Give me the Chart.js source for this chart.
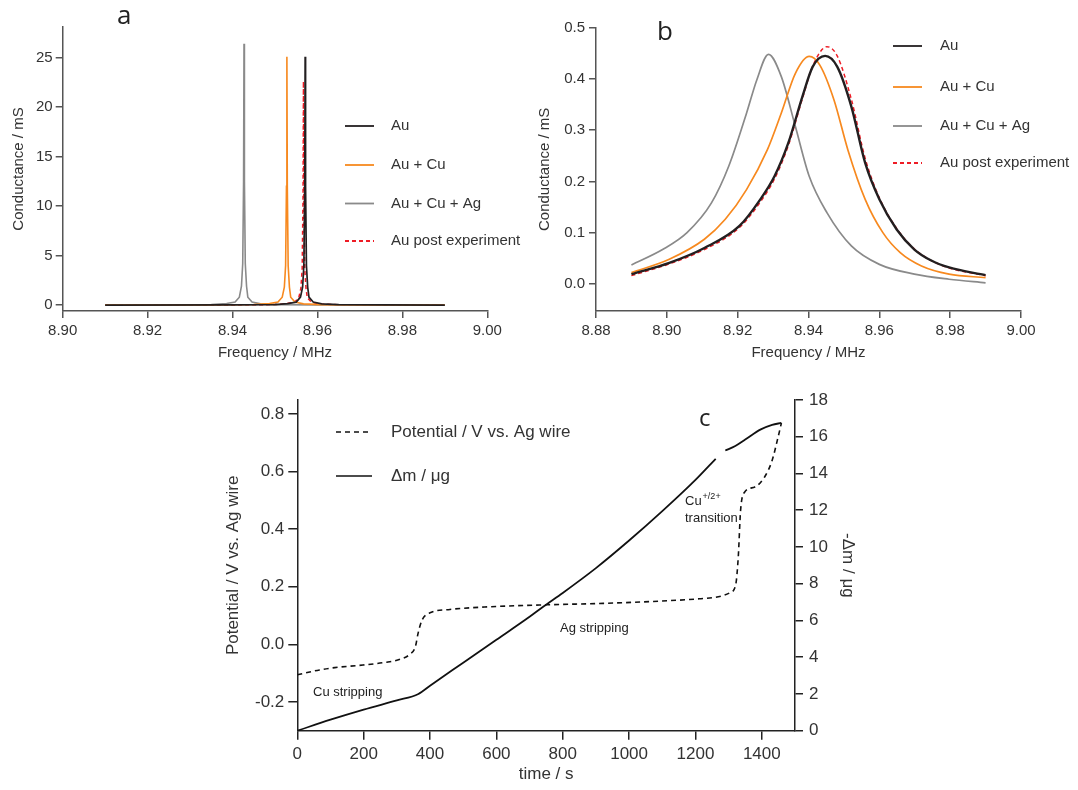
<!DOCTYPE html>
<html>
<head>
<meta charset="utf-8">
<script src="https://cdn.jsdelivr.net/npm/chart.js@4.4.1/dist/chart.umd.min.js"></script>
<style>
  body { margin: 0; width: 1078px; height: 790px; background: #fff; position: relative; overflow: hidden; }
  canvas { position: absolute; }
</style>
</head>
<body>
<canvas id="chart_a" width="540" height="370" style="left:0px;top:0px"></canvas>
<canvas id="chart_b" width="548" height="370" style="left:530px;top:0px"></canvas>
<canvas id="chart_c" width="640" height="410" style="left:220px;top:380px"></canvas>
<script>
// ---- panel a : narrow resonances ----
const a_au_freq = [8.910, 8.940, 8.950, 8.953, 8.955, 8.956, 8.9565, 8.9568, 8.9570, 8.9571, 8.9572, 8.9574, 8.9577, 8.958, 8.959, 8.961, 8.965, 8.975, 8.990];
const a_au_g    = [0, 0.01, 0.05, 0.15, 0.3, 0.8, 1.8, 4.0, 12, 25.1, 12, 4.0, 1.8, 0.8, 0.3, 0.12, 0.04, 0.01, 0];
const a_cu_freq = [8.910, 8.935, 8.945, 8.9487, 8.9507, 8.9517, 8.9522, 8.9525, 8.9527, 8.9528, 8.9529, 8.9531, 8.9534, 8.9537, 8.9547, 8.9567, 8.9607, 8.970, 8.990];
const a_cu_g    = [0, 0.01, 0.05, 0.15, 0.3, 0.8, 1.8, 4.0, 12, 25.1, 12, 4.0, 1.8, 0.8, 0.3, 0.12, 0.04, 0.01, 0];
const a_ag_freq = [8.910, 8.925, 8.935, 8.9386, 8.9406, 8.9416, 8.9421, 8.9424, 8.9426, 8.9427, 8.9428, 8.9430, 8.9433, 8.9436, 8.9446, 8.9466, 8.9506, 8.960, 8.990];
const a_ag_g    = [0, 0.01, 0.05, 0.15, 0.3, 0.8, 1.9, 4.2, 12.5, 26.4, 12.5, 4.2, 1.9, 0.8, 0.3, 0.12, 0.04, 0.01, 0];
const a_post_freq = [8.910, 8.940, 8.950, 8.9526, 8.9546, 8.9556, 8.9561, 8.9564, 8.9566, 8.9567, 8.9568, 8.9570, 8.9573, 8.9576, 8.9586, 8.9606, 8.9646, 8.975, 8.990];
const a_post_g    = [0, 0.01, 0.05, 0.14, 0.28, 0.75, 1.7, 3.7, 11, 22.6, 11, 3.7, 1.7, 0.75, 0.28, 0.11, 0.04, 0.01, 0];

// ---- panel b : broad resonances ----
const b_au_freq = [8.890, 8.9007, 8.9106, 8.9205, 8.9264, 8.9304, 8.9343, 8.9383, 8.9412, 8.9447, 8.9481, 8.9521, 8.9560, 8.9600, 8.9649, 8.9699, 8.9748, 8.9797, 8.990];
const b_au_g    = [0.019, 0.041, 0.070, 0.113, 0.165, 0.210, 0.275, 0.366, 0.424, 0.445, 0.424, 0.346, 0.236, 0.165, 0.106, 0.067, 0.045, 0.032, 0.017];
const b_cu_freq = [8.890, 8.9007, 8.9106, 8.9165, 8.9225, 8.9284, 8.9323, 8.9363, 8.9402, 8.9432, 8.9472, 8.9511, 8.9560, 8.9610, 8.9659, 8.9719, 8.9797, 8.990];
const b_cu_g    = [0.022, 0.048, 0.087, 0.126, 0.184, 0.262, 0.333, 0.411, 0.444, 0.427, 0.359, 0.262, 0.165, 0.100, 0.061, 0.035, 0.019, 0.012];
const b_ag_freq = [8.890, 8.8988, 8.9057, 8.9126, 8.9175, 8.9225, 8.9254, 8.9287, 8.9323, 8.9363, 8.9402, 8.9452, 8.9521, 8.9600, 8.9699, 8.9797, 8.990];
const b_ag_g    = [0.037, 0.067, 0.100, 0.158, 0.230, 0.333, 0.398, 0.448, 0.405, 0.307, 0.210, 0.139, 0.074, 0.038, 0.019, 0.009, 0.002];
const b_post_freq = [8.890, 8.9007, 8.9106, 8.9205, 8.9264, 8.9304, 8.9343, 8.9383, 8.9412, 8.9452, 8.9481, 8.9521, 8.9560, 8.9600, 8.9649, 8.9699, 8.9748, 8.9797, 8.990];
const b_post_g    = [0.016, 0.039, 0.067, 0.110, 0.160, 0.205, 0.270, 0.362, 0.425, 0.463, 0.445, 0.360, 0.245, 0.168, 0.108, 0.068, 0.045, 0.031, 0.016];

// ---- panel c : stripping experiment ----
const c_pot_time  = [0, 67, 113, 198, 264, 310, 339, 356, 364, 376, 402, 460, 576, 749, 922, 1096, 1212, 1269, 1304, 1321, 1329, 1336, 1348, 1379, 1408, 1431, 1449, 1459];
const c_potential = [-0.106, -0.089, -0.081, -0.072, -0.063, -0.052, -0.035, -0.008, 0.038, 0.084, 0.110, 0.121, 0.130, 0.137, 0.142, 0.150, 0.158, 0.165, 0.179, 0.205, 0.303, 0.465, 0.528, 0.546, 0.580, 0.638, 0.719, 0.768];
const c_mass_time = [0, 100, 200, 300, 365, 400, 500, 600, 700, 741, 800, 900, 1000, 1100, 1200, 1261, 1275, 1290, 1320, 1350, 1397, 1431, 1459];
const c_mass      = [0, 0.6, 1.15, 1.65, 2.0, 2.45, 3.7, 4.95, 6.2, 6.75, 7.5, 8.85, 10.35, 11.95, 13.65, 14.8, null, 15.25, 15.5, 15.85, 16.4, 16.65, 16.75];

// ---- tick values ----
const freq_ticks_a = [8.90, 8.92, 8.94, 8.96, 8.98, 9.00];
const g_ticks_a = [0, 5, 10, 15, 20, 25];
const freq_ticks_b = [8.88, 8.90, 8.92, 8.94, 8.96, 8.98, 9.00];
const g_ticks_b = [0.0, 0.1, 0.2, 0.3, 0.4, 0.5];
const time_ticks = [0, 200, 400, 600, 800, 1000, 1200, 1400];
const potential_ticks = [-0.2, 0.0, 0.2, 0.4, 0.6, 0.8];
const mass_ticks = [0, 2, 4, 6, 8, 10, 12, 14, 16, 18];
const series_labels = ['Au', 'Au + Cu', 'Au + Cu + Ag', 'Au post experiment'];

Chart.defaults.font.family = "'Liberation Sans', Arial, sans-serif";
Chart.defaults.color = '#333';

const pts = (xs, ys) => xs.map((x, i) => ({ x: x, y: ys[i] }));

const axis = (o) => ({
    type: 'linear',
    position: o.pos,
    min: o.min,
    max: o.max,
    afterBuildTicks: (s) => { s.ticks = o.ticks.map(v => ({ value: v })); },
    afterFit: (s) => { if (s.isHorizontal()) s.height = o.size; else s.width = o.size; },
    ticks: { font: { size: o.tick_size }, color: '#333', padding: o.pad, autoSkip: false, maxRotation: 0, callback: o.fmt },
    grid: { drawOnChartArea: false, tickLength: o.tick_len, color: o.line, lineWidth: 1.5 },
    border: { color: o.line, width: 1.5 },
    title: { display: true, text: o.title, font: { size: o.title_size }, color: '#333', padding: o.title_pad }
});

// legend drawn at fixed spots, styles taken from the datasets
const legend_plugin = (cfg) => ({
    id: 'fixed_legend',
    afterDraw(chart) {
        const ctx = chart.ctx;
        ctx.save();
        chart.data.datasets.forEach((ds, i) => {
            const y = cfg.rows[i];
            ctx.strokeStyle = ds.borderColor;
            ctx.lineWidth = cfg.lw || 1.8;
            ctx.setLineDash(ds.borderDash || []);
            ctx.beginPath();
            ctx.moveTo(cfg.x0, y);
            ctx.lineTo(cfg.x1, y);
            ctx.stroke();
            ctx.setLineDash([]);
            ctx.fillStyle = '#333';
            ctx.font = cfg.font;
            ctx.textBaseline = 'middle';
            ctx.textAlign = 'left';
            ctx.fillText(ds.label, cfg.tx, y);
        });
        ctx.restore();
    }
});

const text_plugin = (items) => ({
    id: 'texts',
    afterDraw(chart) {
        const ctx = chart.ctx;
        ctx.save();
        ctx.textBaseline = 'middle';
        ctx.textAlign = 'left';
        items.forEach(t => {
            ctx.font = t.font;
            ctx.fillStyle = t.color || '#222';
            ctx.fillText(t.text, t.x, t.y);
        });
        ctx.restore();
    }
});

const line_ds = (label, data, color, width, dash) => ({
    label: label,
    data: data,
    borderColor: color,
    borderWidth: width,
    borderDash: dash || [],
    pointRadius: 0,
    fill: false,
    tension: 0
});

const base_options = {
    responsive: false,
    animation: false,
    devicePixelRatio: 1,
    plugins: { legend: { display: false }, tooltip: { enabled: false } }
};

// ---------------- a ----------------
new Chart(document.getElementById('chart_a'), {
    type: 'line',
    data: {
        datasets: [
            line_ds(series_labels[0], pts(a_au_freq, a_au_g), '#231f20', 1.7),
            line_ds(series_labels[1], pts(a_cu_freq, a_cu_g), '#f7891f', 1.6),
            line_ds(series_labels[2], pts(a_ag_freq, a_ag_g), '#8a8a8a', 1.6),
            line_ds(series_labels[3], pts(a_post_freq, a_post_g), '#ee1c25', 1.5, [4, 3])
        ]
    },
    options: {
        ...base_options,
        layout: { padding: { top: 27, right: 52.7, bottom: 0, left: 0 } },
        scales: {
            x: axis({ pos: 'bottom', min: 8.90, max: 9.00, ticks: freq_ticks_a, size: 59, tick_size: 15, pad: 4, tick_len: 7,
                      fmt: v => v.toFixed(2), line: '#555', title: 'Frequency / MHz', title_size: 15, title_pad: { top: 0, bottom: 8 } }),
            y: axis({ pos: 'left', min: -0.6, max: 28.1, ticks: g_ticks_a, size: 62.7, tick_size: 15, pad: 3, tick_len: 7,
                      fmt: v => String(v), line: '#555', title: 'Conductance / mS', title_size: 15, title_pad: { top: 10, bottom: 0 } })
        }
    },
    plugins: [
        legend_plugin({ x0: 345, x1: 374, tx: 391, rows: [126, 165, 203.5, 241], font: '15px "Liberation Sans", Arial' }),
        text_plugin([{ text: 'a', x: 117, y: 17, font: '26px "Open Sans", sans-serif' }])
    ]
});

// ---------------- b ----------------
new Chart(document.getElementById('chart_b'), {
    type: 'line',
    data: {
        datasets: [
            line_ds(series_labels[0], pts(b_au_freq, b_au_g), '#231f20', 2.4),
            line_ds(series_labels[1], pts(b_cu_freq, b_cu_g), '#f7891f', 1.7),
            line_ds(series_labels[2], pts(b_ag_freq, b_ag_g), '#8a8a8a', 1.7),
            line_ds(series_labels[3], pts(b_post_freq, b_post_g), '#ee1c25', 1.5, [4, 3])
        ].map(d => ({ ...d, cubicInterpolationMode: 'monotone' }))
    },
    options: {
        ...base_options,
        layout: { padding: { top: 27.7, right: 57, bottom: 0, left: 0 } },
        scales: {
            x: axis({ pos: 'bottom', min: 8.88, max: 9.00, ticks: freq_ticks_b, size: 59, tick_size: 15, pad: 4, tick_len: 7,
                      fmt: v => v.toFixed(2), line: '#555', title: 'Frequency / MHz', title_size: 15, title_pad: { top: 0, bottom: 8 } }),
            y: axis({ pos: 'left', min: -0.053, max: 0.5, ticks: g_ticks_b, size: 66, tick_size: 15, pad: 4, tick_len: 7,
                      fmt: v => v.toFixed(1), line: '#555', title: 'Conductance / mS', title_size: 15, title_pad: { top: 6, bottom: 0 } })
        }
    },
    plugins: [
        legend_plugin({ x0: 363, x1: 392, tx: 410, rows: [46, 87, 126, 163], font: '15px "Liberation Sans", Arial' }),
        text_plugin([{ text: 'b', x: 127, y: 33, font: '26px "Open Sans", sans-serif' }])
    ]
});

// ---------------- c ----------------
const cu_label = {
    id: 'cu_label',
    afterDraw(chart) {
        const ctx = chart.ctx;
        ctx.save();
        ctx.fillStyle = '#222';
        ctx.textBaseline = 'alphabetic';
        ctx.font = '13px "Liberation Sans", Arial';
        ctx.fillText('Cu', 465, 125);
        const w = ctx.measureText('Cu').width;
        ctx.font = '9px "Liberation Sans", Arial';
        ctx.fillText('+/2+', 465 + w + 1, 119);
        ctx.restore();
    }
};

new Chart(document.getElementById('chart_c'), {
    type: 'line',
    data: {
        datasets: [
            { ...line_ds('Potential / V vs. Ag wire', pts(c_pot_time, c_potential), '#111', 1.6, [5, 4]), yAxisID: 'y', cubicInterpolationMode: 'monotone' },
            { ...line_ds('\u0394m / \u03bcg', pts(c_mass_time, c_mass), '#111', 1.8), yAxisID: 'y2', spanGaps: false, cubicInterpolationMode: 'monotone' }
        ]
    },
    options: {
        ...base_options,
        layout: { padding: { top: 20, right: 0, bottom: 0, left: 0 } },
        scales: {
            x: axis({ pos: 'bottom', min: 0, max: 1500, ticks: time_ticks, size: 59.3, tick_size: 17, pad: 4, tick_len: 9,
                      fmt: v => String(v), line: '#222', title: 'time / s', title_size: 17, title_pad: { top: 0, bottom: 5 } }),
            y: axis({ pos: 'left', min: -0.3, max: 0.848, ticks: potential_ticks, size: 77.3, tick_size: 17, pad: 4, tick_len: 9,
                      fmt: v => v.toFixed(1), line: '#222', title: 'Potential / V vs. Ag wire', title_size: 17, title_pad: { top: 3, bottom: 0 } }),
            y2: axis({ pos: 'right', min: 0, max: 18, ticks: mass_ticks, size: 65, tick_size: 17, pad: 6, tick_len: 8,
                      fmt: v => String(v), line: '#222', title: '-\u0394m / \u03bcg', title_size: 17, title_pad: { top: 2, bottom: 0 } })
        }
    },
    plugins: [
        legend_plugin({ x0: 116, x1: 152, tx: 171, rows: [52, 96], font: '17px "Liberation Sans", Arial', lw: 1.6 }),
        text_plugin([
            { text: 'c', x: 479, y: 39, font: '24px "Open Sans", sans-serif' },
            { text: 'Cu stripping', x: 93, y: 312, font: '13px "Liberation Sans", Arial' },
            { text: 'Ag stripping', x: 340, y: 248, font: '13px "Liberation Sans", Arial' },
            { text: 'transition', x: 465, y: 138, font: '13px "Liberation Sans", Arial' }
        ]),
        cu_label
    ]
});
</script>
</body>
</html>
